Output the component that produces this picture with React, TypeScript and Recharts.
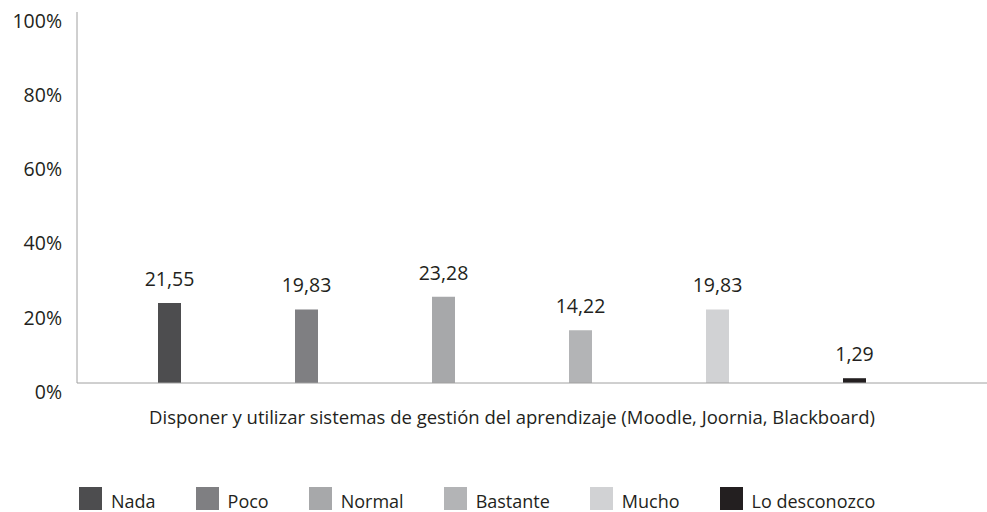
import React from 'react';
import { BarChart, Bar, XAxis, YAxis, Legend, LabelList } from 'recharts';

const categories = ['Disponer y utilizar sistemas de gestión del aprendizaje (Moodle, Joornia, Blackboard)'];
const seriesNames = ['Nada', 'Poco', 'Normal', 'Bastante', 'Mucho', 'Lo desconozco'];
const seriesValues = [21.55, 19.83, 23.28, 14.22, 19.83, 1.29];
const seriesColors = ['#4d4d4f', '#7f7f82', '#a7a8aa', '#b3b4b6', '#d1d2d4', '#231f20'];
const yTicks = [0, 20, 40, 60, 80, 100];

const FONT = '"Open Sans", sans-serif';
const TEXT = '#231f20';
const AXIS = '#a0a0a0';

const data = categories.map(c => {
  const row: Record<string, any> = { name: c };
  seriesNames.forEach((n, i) => { row[n] = seriesValues[i]; });
  return row;
});

const fmt = (v: any) => Number(v).toFixed(2).replace('.', ',');

const YTick = ({ x, y, payload }: any) => (
  <text x={x} y={y + 9} dy="0.35em" textAnchor="end" fill={TEXT} fontSize={19.5} fontFamily={FONT}>
    {payload.value}%
  </text>
);

const XTick = ({ x, y, payload }: any) => (
  <text x={x} y={y + 33} textAnchor="middle" fill={TEXT} fontSize={18.5} fontFamily={FONT}>
    {payload.value}
  </text>
);

// legend in series order (recharts sorts its payload by name)
const renderLegend = () => (
  <div style={{ display: 'flex', alignItems: 'flex-end', height: 23, fontFamily: FONT }}>
    {seriesNames.map((n, i) => (
      <div key={n} style={{ display: 'flex', alignItems: 'flex-end', marginRight: 40 }}>
        <div style={{ width: 23, height: 23, background: seriesColors[i], marginRight: 9 }} />
        <span style={{ fontSize: 18, lineHeight: '18px', color: TEXT, whiteSpace: 'nowrap' }}>{n}</span>
      </div>
    ))}
  </div>
);

export default function App() {
  return (
    <div style={{ position: 'absolute', left: 0, top: 0, width: 987, height: 512, background: '#fff' }}>
      <BarChart width={987} height={512} data={data} barSize={23} barGap={114}
        margin={{ top: 12, right: 0, left: 0, bottom: 2 }}>
        <XAxis dataKey="name" axisLine={{ stroke: AXIS }} tickLine={false} height={104}
          padding={{ left: 0, right: 40 }} tick={<XTick />} interval={0} />
        <YAxis domain={[0, 100]} ticks={yTicks} width={77} axisLine={{ stroke: AXIS }}
          tickLine={false} tick={<YTick />} tickMargin={9} />
        <Legend verticalAlign="bottom" align="left" content={renderLegend}
          wrapperStyle={{ left: 79, bottom: 2, width: 900, height: 23 }} />
        {seriesNames.map((n, i) => (
          <Bar key={n} dataKey={n} name={n} fill={seriesColors[i]} isAnimationActive={false}>
            <LabelList dataKey={n} position="top" offset={17} formatter={fmt}
              fill={TEXT} fontSize={19.5} fontFamily={FONT} />
          </Bar>
        ))}
      </BarChart>
    </div>
  );
}
